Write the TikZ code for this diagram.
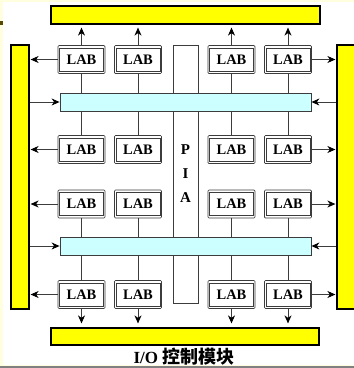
\documentclass[tikz,border=0pt]{standalone}
\usepackage{fontspec}
\setmainfont{Liberation Serif}
\newfontfamily\cjk{Noto Sans CJK SC}
\usetikzlibrary{arrows.meta}
\definecolor{cream}{RGB}{255,255,224}
\definecolor{linegray}{RGB}{60,60,60}
\definecolor{barcyan}{RGB}{204,255,255}
\definecolor{baryellow}{RGB}{255,255,0}
\definecolor{olive}{RGB}{90,74,0}
\begin{document}
\begin{tikzpicture}[x=1pt,y=-1pt,
  ybar/.style={draw=black,line width=1.2pt,fill=baryellow,inner sep=0pt},
  cbar/.style={draw=linegray,line width=0.8pt,fill=barcyan,inner sep=0pt},
  labbox/.style={draw=linegray,line width=0.7pt,rounded corners=1pt,fill=white,
    minimum width=47pt,minimum height=28pt,inner sep=0pt,
    font=\bfseries\fontsize{14.5}{15}\selectfont,
    path picture={\draw[linegray,line width=0.6pt,sharp corners]
      ([xshift=1.6pt,yshift=-2.4pt]path picture bounding box.north west) rectangle
      ([xshift=-1.6pt,yshift=2.4pt]path picture bounding box.south east);}},
  conn/.style={draw=linegray,line width=0.9pt},
  arr/.style={conn,-{Stealth[length=8pt,width=7pt,inset=2.5pt,black]}}]
\useasboundingbox (0,0) rectangle (354,368);
\clip (0,0) rectangle (354,368);
% background
\fill[cream] (0,0) rectangle (354,368);
\fill[white] (3,2) rectangle (354,365);
\fill[gray] (0,365.5) rectangle (354,368);
\fill[olive] (0,21) rectangle (3,25);
% bars
\node[ybar,minimum width=269pt,minimum height=18pt] (top) at (185.5,15) {};
\node[ybar,minimum width=268pt,minimum height=17pt] (bot) at (185,336.5) {};
\node[ybar,minimum width=18pt,minimum height=264pt] (left) at (20,177) {};
\node[ybar,minimum width=19pt,minimum height=264pt] (right) at (346.5,177) {};
\node[draw=linegray,line width=0.8pt,fill=white,minimum width=25pt,minimum height=258pt,
  inner sep=0pt,align=center,font=\bfseries\fontsize{15}{24}\selectfont] (pia) at (185.5,174) {P\\I\\A};
\node[cbar,minimum width=251pt,minimum height=18pt] (c1) at (185.5,102) {};
\node[cbar,minimum width=251pt,minimum height=18pt] (c2) at (185.5,246) {};
% LABs
\foreach \c/\x in {1/81.5,2/138,3/231.5,4/288}{
  \foreach \r/\y in {1/59.5,2/149.5,3/204,4/294.5}{
    \node[labbox] (l\r\c) at (\x,\y) {LAB};
  }
}
% vertical links
\foreach \c in {1,2,3,4}{
  \draw[arr,shorten >=3pt] (l1\c.north) -- (l1\c.north |- top.south);
  \draw[conn] (l1\c.south) -- (l1\c.south |- c1.north);
  \draw[conn] (l2\c.north) -- (l2\c.north |- c1.south);
  \draw[conn] (l3\c.south) -- (l3\c.south |- c2.north);
  \draw[conn] (l4\c.north) -- (l4\c.north |- c2.south);
  \draw[arr,shorten >=4pt] (l4\c.south) -- (l4\c.south |- bot.north);
}
% horizontal links
\foreach \r in {1,2,3,4}{
  \draw[arr,shorten >=1pt] (l\r1.west) -- (l\r1.west -| left.east);
  \draw[arr,shorten >=1pt] (l\r4.east) -- (l\r4.east -| right.west);
}
\foreach \b in {c1,c2}{
  \draw[arr] (\b.west -| left.east) -- (\b.west);
  \draw[arr] (\b.east -| right.west) -- (\b.east);
}
\node[font=\bfseries\fontsize{17}{18}\selectfont,inner sep=0pt] (cap) at (184,357)
  {I/O {\cjk\fontsize{18}{18}\selectfont 控制模块}};
\end{tikzpicture}
\end{document}
